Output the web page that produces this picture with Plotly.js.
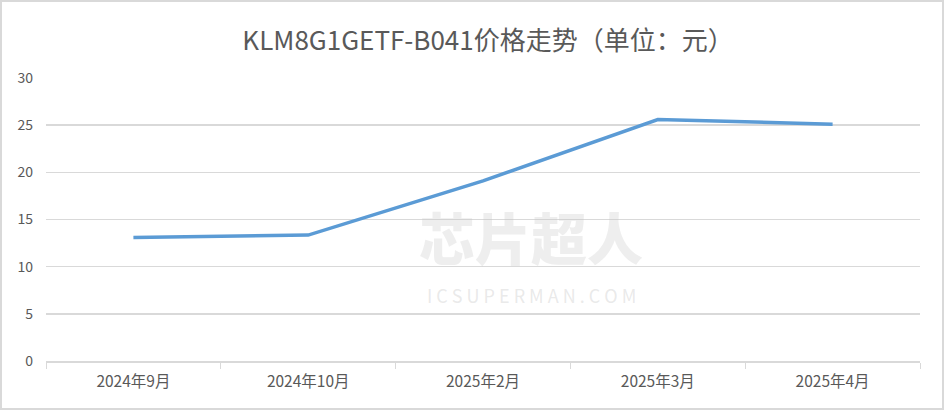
<!DOCTYPE html>
<html>
<head>
<meta charset="utf-8">
<script src="https://cdn.plot.ly/plotly-3.0.1.min.js"></script>
<style>
html,body{margin:0;padding:0;background:#fff;}
#wrap{position:relative;width:944px;height:410px;}
#chart{width:944px;height:410px;}
#frame{position:absolute;left:0;top:0;width:944px;height:410px;box-sizing:border-box;border:2px solid #d9d9d9;pointer-events:none;}
</style>
</head>
<body>
<div id="wrap"><div id="chart"></div><div id="frame"></div></div>
<script>
var categories = ["2024年9月", "2024年10月", "2025年2月", "2025年3月", "2025年4月"];
var prices = [13.1, 13.35, 19.1, 25.6, 25.1];
var yTicks = [0, 5, 10, 15, 20, 25, 30];
var chartTitle = "KLM8G1GETF-B041价格走势（单位：元）";

var font = "'Noto Sans CJK SC', 'Noto Sans', sans-serif";

var trace = {
  x: categories,
  y: prices,
  type: "scatter",
  mode: "lines",
  line: {color: "#5b9bd5", width: 3.5, shape: "linear"},
  hoverinfo: "x+y"
};

var layout = {
  width: 944,
  height: 410,
  margin: {l: 46, r: 24, t: 78, b: 49},
  paper_bgcolor: "#ffffff",
  plot_bgcolor: "#ffffff",
  showlegend: false,
  title: {
    text: chartTitle,
    font: {family: font, size: 26, color: "#595959"},
    x: 0.517, xanchor: "center",
    y: 0.9, yanchor: "middle"
  },
  xaxis: {
    type: "category",
    tickson: "boundaries",
    ticks: "outside",
    ticklen: 6,
    tickcolor: "#d9d9d9",
    showline: true,
    linecolor: "#d9d9d9",
    linewidth: 1.5,
    showgrid: false,
    zeroline: false,
    ticklabelstandoff: 6,
    tickfont: {family: font, size: 15.5, color: "#595959"},
    range: [-0.5, 4.5]
  },
  yaxis: {
    range: [0, 30],
    tickvals: yTicks,
    ticktext: yTicks.map(String),
    showgrid: true,
    gridcolor: "#d9d9d9",
    gridwidth: 1.5,
    zeroline: false,
    showline: false,
    ticks: "",
    ticklabelstandoff: 12,
    tickfont: {family: font, size: 14, color: "#595959"}
  },
  annotations: [
    {text: "芯片超人", xref: "paper", yref: "paper", x: 0.555, y: 0.445, showarrow: false,
     font: {family: font, size: 56, color: "rgba(200,200,200,0.3)", weight: 900}},
    {text: "I C S U P E R M A N . C O M", xref: "paper", yref: "paper", x: 0.555, y: 0.18, showarrow: false,
     font: {family: font, size: 18, color: "rgba(200,200,200,0.4)"}}
  ]
};

Plotly.newPlot("chart", [trace], layout, {displayModeBar: false, staticPlot: true});
</script>
</body>
</html>
